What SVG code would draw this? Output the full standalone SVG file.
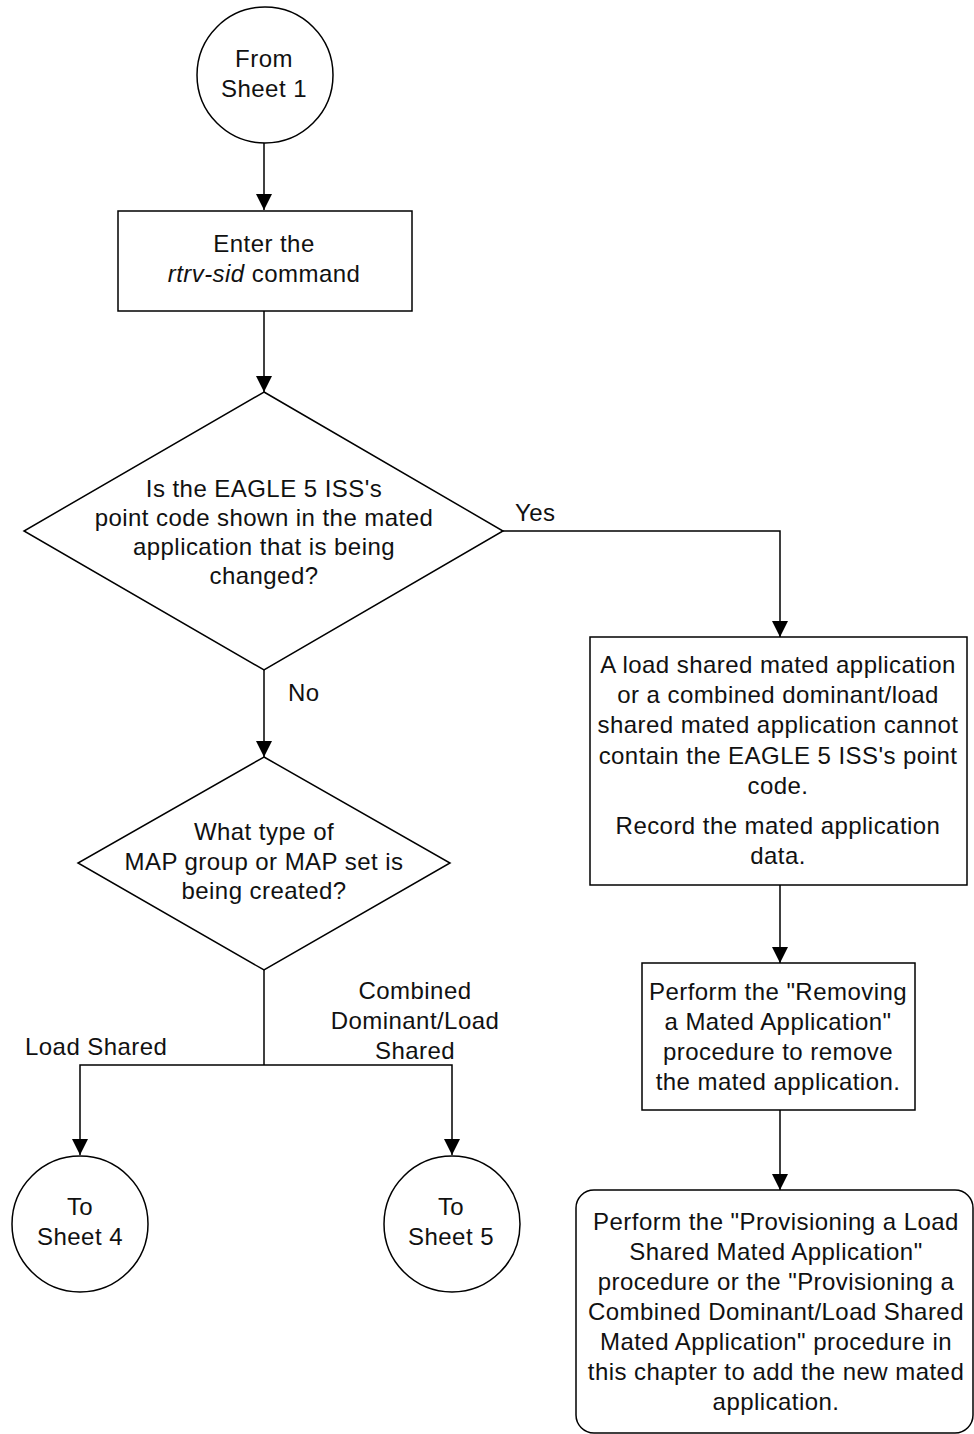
<svg xmlns="http://www.w3.org/2000/svg" width="974" height="1434" viewBox="0 0 974 1434">
<style>
.s{fill:#fff;stroke:#000;stroke-width:1.5}
.c{fill:none;stroke:#000;stroke-width:1.5}
text{font-family:"Liberation Sans",Arial,sans-serif;font-size:24px;fill:#111;text-anchor:middle;letter-spacing:0.45px}
.l{text-anchor:start}
</style>
<defs>
<marker id="ah" markerWidth="16" markerHeight="18" refX="16" refY="8" orient="auto" markerUnits="userSpaceOnUse" viewBox="0 0 16 16">
<path d="M0,0 L16,8 L0,16 Z" fill="#000"/>
</marker>
</defs>
<g id="connectors">
<line class="c" x1="264" y1="143" x2="264" y2="210" marker-end="url(#ah)"/>
<line class="c" x1="264" y1="311" x2="264" y2="392" marker-end="url(#ah)"/>
<polyline class="c" points="503,531 780,531 780,637" marker-end="url(#ah)"/>
<line class="c" x1="264" y1="670" x2="264" y2="757" marker-end="url(#ah)"/>
<line class="c" x1="264" y1="970" x2="264" y2="1065"/>
<polyline class="c" points="264,1065 80,1065 80,1155" marker-end="url(#ah)"/>
<polyline class="c" points="264,1065 452,1065 452,1155" marker-end="url(#ah)"/>
<line class="c" x1="780" y1="885" x2="780" y2="963" marker-end="url(#ah)"/>
<line class="c" x1="780" y1="1110" x2="780" y2="1190" marker-end="url(#ah)"/>
<text class="l" x="515" y="521">Yes</text>
<text class="l" x="288" y="701">No</text>
<text class="l" x="25" y="1055">Load Shared</text>
<text x="415" y="999">Combined</text>
<text x="415" y="1029">Dominant/Load</text>
<text x="415" y="1059">Shared</text>
</g>
<g id="from-sheet1">
<circle class="s" cx="265" cy="75" r="68"/>
<text x="264" y="67">From</text>
<text x="264" y="97">Sheet 1</text>
</g>
<g id="enter-rtrv-sid">
<rect class="s" x="118" y="211" width="294" height="100"/>
<text x="264" y="252">Enter the</text>
<text x="264" y="282"><tspan font-style="italic">rtrv-sid</tspan> command</text>
</g>
<g id="decision-pc">
<polygon class="s" points="264,392 503,531 264,670 24,531"/>
<text x="264" y="497">Is the EAGLE 5 ISS's</text>
<text x="264" y="526">point code shown in the mated</text>
<text x="264" y="555">application that is being</text>
<text x="264" y="584">changed?</text>
</g>
<g id="decision-type">
<polygon class="s" points="264,757 450,863 264,970 78,863"/>
<text x="264" y="840">What type of</text>
<text x="264" y="870">MAP group or MAP set is</text>
<text x="264" y="899">being created?</text>
</g>
<g id="to-sheet4">
<circle class="s" cx="80" cy="1224" r="68"/>
<text x="80" y="1215">To</text>
<text x="80" y="1245">Sheet 4</text>
</g>
<g id="to-sheet5">
<circle class="s" cx="452" cy="1224" r="68"/>
<text x="451" y="1215">To</text>
<text x="451" y="1245">Sheet 5</text>
</g>
<g id="cannot-contain">
<rect class="s" x="590" y="637" width="377" height="248"/>
<text x="778" y="673">A load shared mated application</text>
<text x="778" y="703">or a combined dominant/load</text>
<text x="778" y="733">shared mated application cannot</text>
<text x="778" y="764">contain the EAGLE 5 ISS's point</text>
<text x="778" y="794">code.</text>
<text x="778" y="834">Record the mated application</text>
<text x="778" y="864">data.</text>
</g>
<g id="remove-mated">
<rect class="s" x="642" y="963" width="273" height="147"/>
<text x="778" y="1000">Perform the "Removing</text>
<text x="778" y="1030">a Mated Application"</text>
<text x="778" y="1060">procedure to remove</text>
<text x="778" y="1090">the mated application.</text>
</g>
<g id="provision-new">
<rect class="s" x="576" y="1190" width="397" height="243" rx="18" ry="18"/>
<text x="776" y="1230">Perform the "Provisioning a Load</text>
<text x="776" y="1260">Shared Mated Application"</text>
<text x="776" y="1290">procedure or the "Provisioning a</text>
<text x="776" y="1320">Combined Dominant/Load Shared</text>
<text x="776" y="1350">Mated Application" procedure in</text>
<text x="776" y="1380">this chapter to add the new mated</text>
<text x="776" y="1410">application.</text>
</g>
</svg>
